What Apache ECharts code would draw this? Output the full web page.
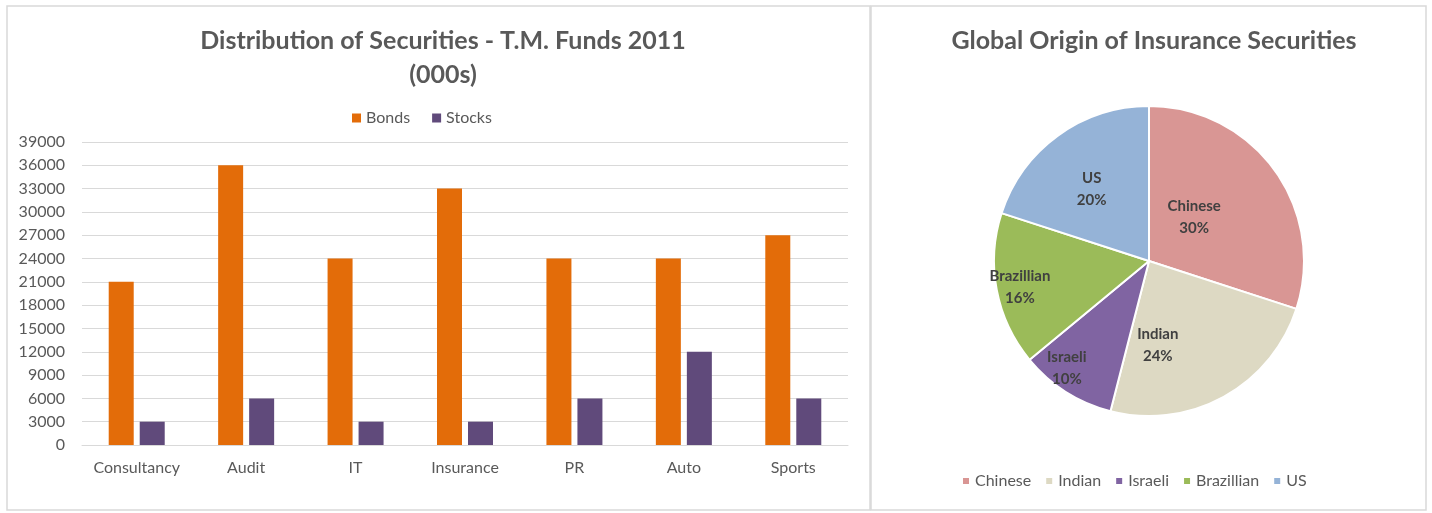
<!DOCTYPE html>
<html>
<head>
<meta charset="utf-8">
<style>
  html, body { margin: 0; padding: 0; background: #fff; }
  #main { width: 1432px; height: 513px; }
</style>
<script src="https://cdn.jsdelivr.net/npm/echarts@6/dist/echarts.min.js"></script>
</head>
<body>
<div id="main"></div>
<script>
// bar chart data
const sectors = ['Consultancy', 'Audit', 'IT', 'Insurance', 'PR', 'Auto', 'Sports'];
const bonds = [21000, 36000, 24000, 33000, 24000, 24000, 27000];
const stocks = [3000, 6000, 3000, 3000, 6000, 12000, 6000];

// pie data
const origins = ['Chinese', 'Indian', 'Israeli', 'Brazillian', 'US'];
const originShare = [30, 24, 10, 16, 20];
const originColors = ['#D99694', '#DDD9C3', '#8064A2', '#9BBB59', '#95B3D7'];

// nudges for the in-slice labels (Excel "best fit" places them unevenly)
const labelShift = [[-20, 3], [-30, 14], [-39, 39], [-50, 11], [-10, -7]];

const font = 'Lato';
const textGrey = '#595959';

let chart = echarts.init(document.getElementById('main'), null, { renderer: 'canvas' });

let option = {
    animation: false,
    textStyle: { fontFamily: font },
    graphic: [
        { type: 'rect', shape: { x: 7, y: 6, width: 863, height: 504 },
          style: { fill: 'none', stroke: '#d9d9d9', lineWidth: 1.5 } },
        { type: 'rect', shape: { x: 871, y: 6, width: 555, height: 504 },
          style: { fill: 'none', stroke: '#d9d9d9', lineWidth: 1.5 } }
    ],
    title: [
        {
            text: 'Distribution of Securities - T.M. Funds 2011\n(000s)',
            left: 438, top: 19, textAlign: 'center',
            textStyle: { fontFamily: font, fontSize: 25, fontWeight: 'bold', color: textGrey, lineHeight: 34 }
        },
        {
            text: 'Global Origin of Insurance Securities',
            left: 1149, top: 19, textAlign: 'center',
            textStyle: { fontFamily: font, fontSize: 25, fontWeight: 'bold', color: textGrey, lineHeight: 34 }
        }
    ],
    legend: [
        {
            data: ['Bonds', 'Stocks'],
            left: 347, top: 105,
            itemWidth: 9, itemHeight: 9, itemGap: 22,
            icon: 'rect',
            textStyle: { fontFamily: font, fontSize: 16, color: textGrey }
        },
        {
            data: origins,
            left: 956, top: 468,
            itemWidth: 8, itemHeight: 8, itemGap: 13,
            icon: 'rect',
            textStyle: { fontFamily: font, fontSize: 16, color: textGrey }
        }
    ],
    grid: { left: 82, top: 142, width: 766, height: 303, containLabel: false },
    xAxis: {
        type: 'category',
        data: sectors,
        axisLine: { lineStyle: { color: '#d9d9d9', width: 1 } },
        axisTick: { show: false },
        axisLabel: { fontFamily: font, fontSize: 16, color: textGrey, margin: 15, interval: 0 }
    },
    yAxis: {
        type: 'value',
        min: 0, max: 39000, interval: 3000,
        axisLine: { show: false },
        axisTick: { show: false },
        axisLabel: { fontFamily: font, fontSize: 16, color: textGrey, margin: 17, formatter: v => String(v) },
        splitLine: { lineStyle: { color: '#d9d9d9', width: 1 } }
    },
    series: [
        {
            name: 'Bonds', type: 'bar', data: bonds,
            barWidth: 25, barGap: '24%',
            itemStyle: { color: '#E36C09' }
        },
        {
            name: 'Stocks', type: 'bar', data: stocks,
            barWidth: 25,
            itemStyle: { color: '#604A7B' }
        },
        {
            name: 'Origin', type: 'pie',
            center: [1149, 261], radius: 155,
            startAngle: 90, clockwise: true,
            data: origins.map((n, i) => ({ name: n, value: originShare[i], itemStyle: { color: originColors[i] } })),
            itemStyle: { borderColor: '#fff', borderWidth: 2 },
            label: {
                position: 'inside',
                formatter: '{b}\n{d}%',
                fontFamily: font, fontSize: 15, fontWeight: 'bold', color: '#404040', lineHeight: 22
            },
            labelLayout: p => ({ dx: labelShift[p.dataIndex][0], dy: labelShift[p.dataIndex][1] }),
            labelLine: { show: false },
            emphasis: { disabled: true }
        }
    ]
};

chart.setOption(option);
</script>
</body>
</html>
